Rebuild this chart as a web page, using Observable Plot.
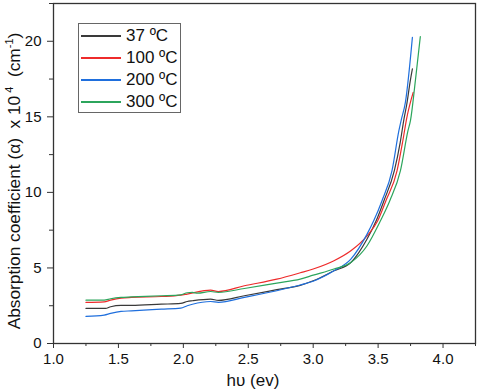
<!DOCTYPE html>
<html><head><meta charset="utf-8">
<script src="https://cdn.jsdelivr.net/npm/d3@7"></script>
<script src="https://cdn.jsdelivr.net/npm/@observablehq/plot@0.6"></script>
<style>
body{margin:0;background:#fff;font-family:"Liberation Sans",Arial,sans-serif;}
#wrap{position:relative;width:480px;height:392px;}
.legend{position:absolute;left:78px;top:23px;width:103px;height:90px;border:1px solid #666;box-sizing:border-box;background:#fff;font-size:17px;color:#111;}
.row{position:absolute;left:2px;height:20px;line-height:20px;white-space:nowrap;}
.row .ln{position:absolute;left:0;top:9px;width:40px;height:1.5px;}
.row .tx{position:absolute;left:45px;top:0;}
</style>
</head><body>
<div id="wrap"></div>
<script>
const seriesNames = ["37 ºC", "100 ºC", "200 ºC", "300 ºC"];
const seriesColors = ["#3a3a3a", "#ee2b2b", "#1f6fdd", "#2ca55c"];

const x37 = [1.25,1.40,1.44,1.52,1.60,1.83,1.98,2.03,2.07,2.21,2.27,2.47,2.72,2.90,3.00,3.16,3.29,3.35,3.415,3.485,3.545,3.625,3.67,3.70,3.72,3.748,3.764];
const y37 = [2.32,2.32,2.43,2.52,2.52,2.60,2.65,2.78,2.83,2.94,2.85,3.16,3.56,3.85,4.15,4.81,5.36,6.00,6.91,8.12,9.45,11.44,13.3,14.9,15.8,17.4,18.17];

const x100 = [1.25,1.39,1.44,1.52,1.60,1.83,1.98,2.03,2.21,2.27,2.47,2.72,2.90,3.00,3.16,3.29,3.415,3.497,3.56,3.646,3.69,3.72,3.77];
const y100 = [2.72,2.76,2.87,3.00,3.05,3.11,3.20,3.27,3.53,3.44,3.82,4.26,4.68,4.93,5.48,6.14,7.13,8.12,9.45,11.44,13.4,14.9,16.62];

const x200 = [1.25,1.39,1.44,1.52,1.60,1.83,1.98,2.03,2.07,2.21,2.27,2.47,2.72,2.90,3.00,3.16,3.29,3.415,3.466,3.53,3.607,3.66,3.677,3.71,3.764];
const y200 = [1.79,1.88,1.99,2.12,2.16,2.27,2.34,2.50,2.60,2.78,2.72,3.05,3.49,3.87,4.12,4.81,5.59,7.24,8.12,9.45,11.44,14.08,14.75,15.96,20.26];

const x300 = [1.25,1.39,1.44,1.52,1.60,1.83,1.98,2.03,2.07,2.11,2.21,2.27,2.47,2.72,2.90,3.00,3.16,3.29,3.415,3.518,3.59,3.672,3.73,3.749,3.787,3.825];
const y300 = [2.87,2.87,2.96,3.05,3.08,3.16,3.22,3.36,3.38,3.33,3.44,3.38,3.64,4.00,4.26,4.52,4.93,5.36,6.47,8.12,9.45,11.44,14.08,14.75,17.4,20.31];

const xMajor = [1.0,1.5,2.0,2.5,3.0,3.5,4.0];
const xMinor = [1.25,1.75,2.25,2.75,3.25,3.75,4.25];
const yMajor = [0,5,10,15,20];
const yMinor = [2.5,7.5,12.5,17.5,22.5];

const xs = [x37, x100, x200, x300];
const ys = [y37, y100, y200, y300];
const data = [];
seriesNames.forEach((name, i) => {
  xs[i].forEach((xv, j) => data.push({x: xv, y: ys[i][j], s: name}));
});

const font = '"Liberation Sans", Arial, sans-serif';
const chart = Plot.plot({
  width: 480, height: 392,
  marginTop: 3, marginRight: 5, marginBottom: 49, marginLeft: 53,
  style: {fontFamily: font, fontSize: "15px", color: "#111", background: "#fff"},
  x: {domain: [1.0, 4.25], axis: null},
  y: {domain: [0, 22.5], axis: null},
  color: {domain: seriesNames, range: seriesColors},
  marks: [
    Plot.line(data, {x: "x", y: "y", z: "s", stroke: "s", strokeWidth: 1.2, curve: "monotone-x"}),
    Plot.frame({stroke: "#333", strokeWidth: 1.3}),
    Plot.axisX(xMajor, {tickSize: 5, tickPadding: 5, tickFormat: d3.format(".1f"), label: null, stroke: "#333", fontSize: 15}),
    Plot.axisX(xMinor, {tickSize: 3, tickFormat: () => "", label: null, stroke: "#333"}),
    Plot.axisY(yMajor, {tickSize: 6, tickPadding: 6, tickFormat: d3.format("d"), label: null, stroke: "#333", fontSize: 15}),
    Plot.axisY(yMinor, {tickSize: 4, tickFormat: () => "", label: null, stroke: "#333"})
  ]
});

const svg = d3.select(chart);
const yl = svg.append("text")
  .attr("transform", "translate(20,181) rotate(-90)")
  .attr("text-anchor", "middle")
  .attr("font-size", 17.3).attr("fill", "#111").attr("font-family", font)
  .style("white-space", "pre");
yl.append("tspan").text("Absorption coefficient (α)  x 10");
yl.append("tspan").attr("font-size", 11).attr("dy", -7).text(" 4");
yl.append("tspan").attr("dy", 7).text("  (cm");
yl.append("tspan").attr("font-size", 11).attr("dy", -7).text("-1");
yl.append("tspan").attr("dy", 7).text(")");

svg.append("text")
  .attr("x", 253).attr("y", 386)
  .attr("text-anchor", "middle")
  .attr("font-size", 17).attr("fill", "#111").attr("font-family", font)
  .text("hυ (ev)");

const wrap = document.getElementById("wrap");
wrap.appendChild(chart);

const leg = document.createElement("div");
leg.className = "legend";
seriesNames.forEach((name, i) => {
  const r = document.createElement("div");
  r.className = "row";
  r.style.top = (2 + i * 22) + "px";
  const ln = document.createElement("span");
  ln.className = "ln";
  ln.style.background = seriesColors[i];
  r.appendChild(ln);
  const tx = document.createElement("span");
  tx.className = "tx";
  tx.textContent = name;
  r.appendChild(tx);
  leg.appendChild(r);
});
wrap.appendChild(leg);
</script>
</body></html>
